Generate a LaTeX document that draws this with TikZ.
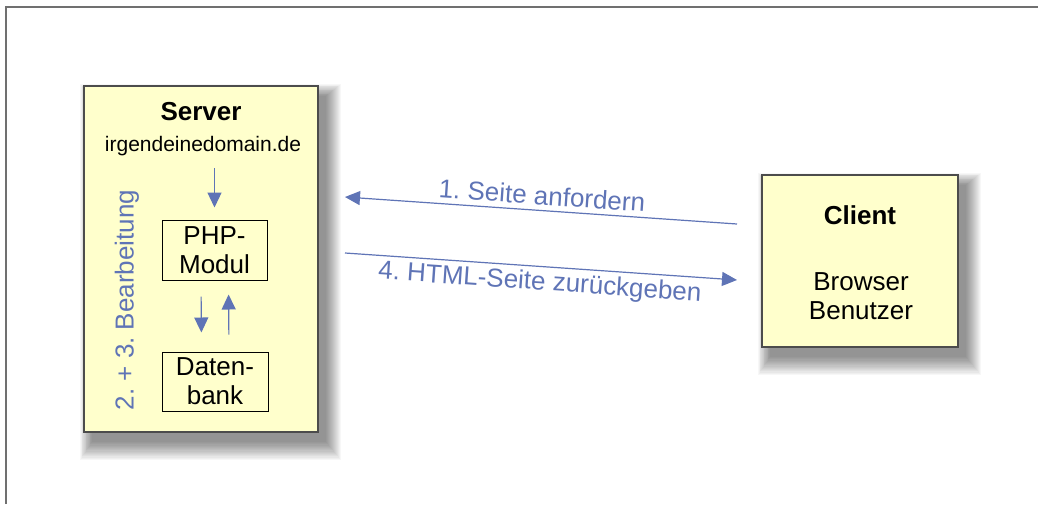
\documentclass[tikz,border=0pt]{standalone}
\usepackage{fontspec}
\setmainfont{Liberation Sans}
\usetikzlibrary{arrows.meta,calc}
\frenchspacing
\definecolor{boxfill}{HTML}{FFFFCC}
\definecolor{arrblue}{HTML}{5F74B6}
\definecolor{frame}{HTML}{707070}
\tikzset{
  big/.style={font=\fontsize{26}{29}\selectfont},
  bigbox/.style={draw=black!70, line width=1.3pt, fill=boxfill, inner sep=0pt},
  smallbox/.style={draw=black, line width=1pt, inner sep=0pt, align=center, big},
  arr/.style={draw=arrblue, line width=1.2pt, -{Triangle[length=15pt,width=14pt]}},
  lbl/.style={text=arrblue, big},
}
\newcommand{\softshadow}[4]{%
  \foreach \k in {0,...,15}{
    \fill[black, opacity=0.032] ($(#1,#2)+(8-\k*0.8,10-\k*0.8)$) rectangle ($(#3,#4)+(8+\k*1.0,10+\k*1.2)$);
  }}
\begin{document}
\begin{tikzpicture}[x=1pt,y=-1pt]
\useasboundingbox (0,0) rectangle (1038,504);
\fill[white] (0,0) rectangle (1038,504);
\draw[frame, line width=1.8pt] (6,504) -- (6,7) -- (1038,7);

% shadows
\softshadow{84}{86}{318}{432}
\softshadow{762}{175}{958}{347}

% boxes
\node[bigbox, minimum width=234pt, minimum height=346pt] (server) at (201,259) {};
\node[bigbox, minimum width=196pt, minimum height=172pt] (client) at (860,261) {};

% server content
\node[big, font=\fontsize{26}{29}\selectfont\bfseries] (stitle) at (201,112) {Server};
\node[font=\fontsize{21}{25}\selectfont] (dom) at (203,146) {irgendeinedomain.de};
\node[smallbox, minimum width=105pt, minimum height=60pt] (php) at (214.5,250) {PHP-\\Modul};
\node[smallbox, minimum width=106pt, minimum height=59pt] (db) at (215,381.5) {Daten-\\bank};
\node[lbl, rotate=90] (bearb) at (127,300) {2. + 3. Bearbeitung};

\draw[arr, shorten <=9pt, shorten >=12pt] (dom.south -| php.north) -- (php.north);
\draw[arr, shorten <=16pt, shorten >=19pt] ([xshift=-13.5pt]php.south) -- ([xshift=-13.5pt]db.north);
\draw[arr, shorten <=17pt, shorten >=14pt] ([xshift=14pt]db.north) -- ([xshift=14pt]php.south);

% client content
\node[big, font=\fontsize{26}{29}\selectfont\bfseries] (ctitle) at (860,215) {Client};
\node[big, align=center] (cbody) at (861,296) {Browser\\Benutzer};

% connectors
\coordinate (r1) at (737,224);
\coordinate (l1) at (345,197);
\coordinate (l2) at (345,253);
\coordinate (r2) at (737,280);
\draw[arr] (r1) -- (l1) node[lbl, midway, sloped, above, inner sep=5pt] {1. Seite anfordern};
\draw[arr] (l2) -- (r2) node[lbl, midway, sloped, below, inner sep=4pt] {4. HTML-Seite zurückgeben};
\end{tikzpicture}
\end{document}
